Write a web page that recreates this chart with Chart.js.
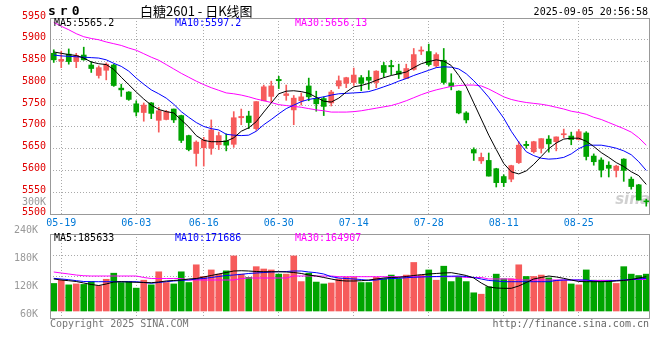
<!DOCTYPE html>
<html>
<head>
<meta charset="utf-8">
<script src="https://cdn.jsdelivr.net/npm/chart.js@4.4.1/dist/chart.umd.min.js"></script>
<style>
body { margin: 0; background: #fff; }
#wrap { position: relative; width: 660px; height: 360px; overflow: hidden; font-family: 'DejaVu Sans Mono', monospace; font-size: 10px; }
canvas { position: absolute; left: 0; top: 0; }
.t { position: absolute; white-space: pre; line-height: 12px; }
</style>
</head>
<body>
<div id="wrap">
  <canvas id="kline" width="660" height="360"></canvas>
  <canvas id="vol" width="660" height="360"></canvas>

  <div class="t" style="left:48px;top:4px;font-weight:bold;font-size:13px;line-height:14px;letter-spacing:4px;">sr0</div>
  <div class="t" style="left:140px;top:4px;font-size:13px;line-height:14px;font-family:'Noto Sans CJK SC',sans-serif;">白糖2601 - 日K线图</div>
  <div class="t" style="right:12px;top:6px;">2025-09-05 20:56:58</div>

  <div class="t" style="left:54px;top:17px;color:#000;">MA5:5565.2</div>
  <div class="t" style="left:175px;top:17px;color:#0000ff;">MA10:5597.2</div>
  <div class="t" style="left:295px;top:17px;color:#ff00ff;">MA30:5656.13</div>

  <div class="t" style="left:54px;top:232px;color:#000;">MA5:185633</div>
  <div class="t" style="left:175px;top:232px;color:#0000ff;">MA10:171686</div>
  <div class="t" style="left:295px;top:232px;color:#ff00ff;">MA30:164907</div>

  <div class="t" style="left:50px;top:318px;color:#777;">Copyright 2025 SINA.COM</div>
  <div class="t" style="right:11px;top:318px;color:#666;">http://finance.sina.com.cn</div>
</div>

<script>
// trading days shown on the chart
const dates = [
  '05-16','05-19','05-20','05-21','05-22','05-23','05-26','05-27','05-28','05-29',
  '05-30','06-03','06-04','06-05','06-06','06-09','06-10','06-11','06-12','06-13',
  '06-16','06-17','06-18','06-19','06-20','06-23','06-24','06-25','06-26','06-27',
  '06-30','07-01','07-02','07-03','07-04','07-07','07-08','07-09','07-10','07-11',
  '07-14','07-15','07-16','07-17','07-18','07-21','07-22','07-23','07-24','07-25',
  '07-28','07-29','07-30','07-31','08-01','08-04','08-05','08-06','08-07','08-08',
  '08-11','08-12','08-13','08-14','08-15','08-18','08-19','08-20','08-21','08-22',
  '08-25','08-26','08-27','08-28','08-29','09-01','09-02','09-03','09-04','09-05'
];
const tickDates = ['05-19','06-03','06-16','06-30','07-14','07-28','08-11','08-25'];

// daily candles
const opens = [
  5869,5851,5867,5850,5865,5842,5818,5830,5842,5789,
  5780,5753,5733,5755,5715,5717,5741,5726,5680,5639,
  5652,5651,5659,5668,5660,5721,5725,5696,5760,5770,
  5809,5772,5739,5760,5794,5765,5765,5755,5794,5800,
  5802,5813,5814,5802,5841,5841,5828,5811,5832,5874,
  5873,5840,5853,5801,5782,5732,5648,5622,5623,5604,
  5586,5580,5618,5660,5643,5651,5672,5666,5682,5679,
  5671,5686,5633,5624,5612,5600,5626,5580,5567,5530
];
const highs = [
  5877,5874,5879,5869,5883,5850,5840,5847,5844,5798,
  5781,5760,5755,5756,5745,5738,5741,5727,5681,5668,
  5676,5716,5688,5684,5735,5741,5736,5758,5796,5805,
  5816,5796,5772,5778,5812,5782,5769,5784,5817,5814,
  5835,5818,5829,5829,5848,5853,5844,5844,5880,5884,
  5890,5870,5880,5822,5783,5735,5652,5640,5640,5605,
  5590,5612,5666,5667,5667,5673,5680,5677,5695,5688,
  5694,5689,5638,5629,5620,5612,5627,5585,5568,5534
];
const lows = [
  5848,5836,5844,5836,5853,5825,5812,5808,5793,5770,
  5761,5725,5713,5719,5688,5716,5710,5664,5645,5610,
  5610,5637,5648,5645,5653,5705,5696,5692,5760,5758,
  5788,5761,5705,5750,5760,5736,5726,5748,5788,5790,
  5795,5783,5786,5790,5814,5820,5811,5811,5830,5866,
  5840,5837,5798,5785,5730,5709,5623,5616,5587,5562,
  5563,5574,5616,5651,5640,5640,5642,5645,5675,5659,
  5670,5624,5612,5585,5585,5585,5575,5557,5532,5518
];
const closes = [
  5854,5855,5850,5864,5854,5834,5836,5844,5795,5785,
  5763,5734,5750,5731,5737,5735,5716,5669,5648,5665,
  5670,5693,5680,5658,5721,5724,5710,5758,5792,5794,
  5806,5776,5766,5769,5769,5753,5747,5780,5806,5813,
  5819,5800,5807,5828,5825,5838,5821,5834,5866,5876,
  5843,5866,5802,5793,5732,5716,5640,5630,5587,5572,
  5572,5611,5658,5657,5666,5673,5661,5677,5684,5671,
  5689,5632,5620,5601,5605,5610,5600,5563,5532,5528
];

// price moving averages
const ma5 = [
  5872,5869,5866,5864,5858,5849,5845,5843,5832,5814,
  5797,5780,5764,5750,5740,5735,5732,5716,5700,5680,
  5669,5666,5666,5667,5675,5690,5698,5712,5734,5755,
  5776,5782,5783,5781,5777,5768,5759,5757,5766,5780,
  5792,5795,5800,5807,5813,5818,5822,5826,5836,5845,
  5850,5854,5851,5841,5818,5792,5755,5718,5681,5648,
  5616,5597,5592,5599,5614,5632,5650,5663,5672,5674,
  5674,5667,5655,5641,5630,5618,5609,5597,5588,5568
];
const ma10 = [
  5865,5863,5862,5861,5860,5859,5858,5854,5846,5839,
  5828,5812,5798,5785,5776,5766,5752,5735,5722,5710,
  5701,5696,5693,5683,5681,5680,5681,5690,5705,5717,
  5730,5742,5750,5758,5763,5766,5769,5773,5776,5777,
  5778,5779,5781,5786,5792,5798,5805,5811,5818,5824,
  5830,5836,5838,5837,5833,5822,5806,5788,5768,5744,
  5720,5690,5665,5643,5634,5628,5626,5627,5630,5638,
  5650,5658,5658,5658,5655,5651,5645,5636,5620,5600
];
const ma30 = [
  5940,5931,5923,5914,5907,5903,5900,5895,5891,5887,
  5881,5876,5868,5860,5853,5843,5833,5823,5814,5805,
  5797,5790,5784,5778,5776,5773,5769,5764,5760,5756,
  5751,5749,5747,5745,5742,5739,5737,5734,5734,5734,
  5735,5737,5740,5743,5746,5749,5754,5760,5767,5774,
  5780,5785,5789,5793,5795,5796,5796,5794,5787,5778,
  5769,5763,5759,5756,5754,5752,5749,5745,5741,5736,
  5733,5729,5722,5717,5710,5703,5696,5688,5675,5658
];

// volume in thousands
const volK = [
  134,141,131,133,132,138,129,143,156,136,
  138,124,141,131,159,136,133,159,136,174,
  149,163,154,161,193,154,147,170,165,163,
  154,154,193,138,156,137,133,135,144,147,
  147,136,136,147,144,152,144,152,179,152,
  163,141,171,138,149,138,114,111,127,154,
  144,144,174,149,149,152,146,141,141,133,
  131,163,141,141,141,134,170,154,151,154
];
const volMa5 = [
  143.6,141.4,139.9,138.2,135.0,131.8,129.6,132.9,137.1,137.8,
  137.1,136.5,136.1,135.6,137.1,139.3,140.4,141.4,143.6,144.6,
  147.9,151.1,154.3,157.5,160.7,161.3,160.7,159.6,159.2,159.2,
  159.2,158.6,157.5,155.4,152.1,150.0,146.8,143.6,140.4,139.3,
  139.3,139.9,141.4,143.6,145.7,146.8,147.2,148.9,151.1,152.8,
  154.3,155.4,156.4,157.1,154.3,151.1,145.7,135.0,126.4,124.3,
  123.6,123.6,128.6,136.1,143.6,146.8,150.0,147.9,145.0,141.4,
  138.2,137.8,137.8,137.8,138.2,139.3,140.4,142.5,145.7,148.5
];
const volMa10 = [
  145.0,143.6,142.1,140.0,138.2,137.8,137.8,137.8,137.8,137.8,
  137.8,137.8,136.1,134.4,136.1,137.8,139.3,140.4,141.4,143.6,
  144.6,146.8,148.9,151.1,152.1,153.6,155.4,156.4,157.5,158.6,
  159.2,159.6,160.7,160.7,158.6,157.1,154.3,148.5,145.7,144.6,
  143.6,142.5,140.4,141.4,143.6,144.6,145.0,146.4,147.2,147.9,
  148.5,148.9,149.4,149.6,150.0,148.9,146.8,143.6,140.4,139.3,
  137.8,137.8,137.8,137.8,137.8,137.8,137.8,140.4,141.4,141.4,
  141.4,141.4,139.3,138.2,139.3,140.4,141.4,142.5,143.6,145.0
];
const volMa30 = [
  158.6,156.4,154.3,152.1,150.6,150.0,150.0,150.0,150.0,150.0,
  150.0,150.0,146.8,144.6,144.6,144.6,144.6,144.6,141.4,141.4,
  141.4,141.4,141.4,141.4,141.4,144.6,145.7,145.7,145.7,145.7,
  145.7,145.7,150.0,150.0,150.0,150.0,150.0,150.0,148.5,148.5,
  148.5,148.5,148.5,148.5,148.5,148.5,148.5,148.5,148.5,148.5,
  148.5,148.5,148.5,148.5,148.5,146.8,146.8,146.8,143.6,143.6,
  143.6,143.6,141.4,141.4,141.4,141.4,141.4,141.4,141.4,141.4,
  141.4,140.4,140.4,140.4,140.4,140.4,140.4,142.5,142.5,142.5
];

// axis values
const priceMin = 5500, priceMax = 5950, priceStep = 50;
const volMin = 60, volMax = 240, volStep = 60;
const volExtraTick = 300;   // the stray label above the volume panel
const volFloor = 75;        // volume bars start here

const UP = '#f65b5b';
const DOWN = '#00a400';
const GRID = '#aaaaaa';
const candleColors = closes.map((c, i) => (c >= opens[i] ? UP : DOWN));

Chart.defaults.font.family = "'DejaVu Sans Mono', monospace";
Chart.defaults.font.size = 10;

const dateGrid = c => (tickDates.includes(dates[c.index]) ? GRID : 'rgba(0,0,0,0)');

// solid box round the plot area
const frame = {
    id: 'frame',
    afterDraw(chart) {
        const { ctx, chartArea: a } = chart;
        ctx.save();
        ctx.strokeStyle = '#999';
        ctx.lineWidth = 1;
        ctx.strokeRect(Math.round(a.left) + 0.5, Math.round(a.top) + 0.5,
            Math.round(a.right - a.left) - 1, Math.round(a.bottom - a.top));
        ctx.restore();
    }
};

const watermark = {
    id: 'watermark',
    beforeDatasetsDraw(chart) {
        const { ctx, chartArea: a } = chart;
        ctx.save();
        ctx.font = "italic bold 15px 'DejaVu Sans', sans-serif";
        ctx.fillStyle = 'rgba(150,150,150,0.45)';
        ctx.textAlign = 'right';
        ctx.fillText('sina', a.right, a.bottom - 10);
        ctx.restore();
    }
};

const extraVolLabel = {
    id: 'extraVolLabel',
    afterDraw(chart) {
        const { ctx } = chart;
        const y = chart.scales.y.getPixelForValue(volExtraTick);
        ctx.save();
        ctx.font = "10px 'DejaVu Sans Mono', monospace";
        ctx.fillStyle = '#999';
        ctx.textAlign = 'right';
        ctx.textBaseline = 'middle';
        ctx.fillText(volExtraTick + 'K', 46, y - 4);
        ctx.restore();
    }
};

const lineSet = (data, color) => ({
    type: 'line', data: data, borderColor: color, borderWidth: 1,
    pointRadius: 0, tension: 0, yAxisID: 'y'
});

// price panel
new Chart(document.getElementById('kline'), {
    type: 'bar',
    data: {
        labels: dates,
        datasets: [
            lineSet(ma5, '#000000'),
            lineSet(ma10, '#0000ff'),
            lineSet(ma30, '#ff00ff'),
            {
                data: opens.map((o, i) => [o, closes[i]]),
                backgroundColor: candleColors,
                barThickness: 5, minBarLength: 1, grouped: false, yAxisID: 'y'
            },
            {
                data: lows.map((l, i) => [l, highs[i]]),
                backgroundColor: candleColors,
                barThickness: 1, grouped: false, yAxisID: 'y'
            }
        ]
    },
    options: {
        responsive: false,
        animation: false,
        devicePixelRatio: 1,
        layout: { padding: { top: 18, right: 10, bottom: 132, left: 0 } },
        plugins: { legend: { display: false }, tooltip: { enabled: false } },
        scales: {
            x: {
                grid: { offset: false, drawTicks: false, color: dateGrid },
                border: { display: false, dash: [1, 2] },
                ticks: {
                    autoSkip: false, maxRotation: 0, minRotation: 0,
                    color: '#0078d7', padding: 3,
                    callback: (v, i) => (tickDates.includes(dates[i]) ? dates[i] : '')
                },
                afterFit: s => { s.height = 14; }
            },
            y: {
                min: priceMin, max: priceMax,
                ticks: {
                    stepSize: priceStep, color: '#e00000', padding: 4, labelOffset: -2,
                    callback: v => String(v)
                },
                grid: { drawTicks: false, color: GRID },
                border: { display: false, dash: [1, 2] },
                afterFit: s => { s.width = 50; }
            }
        }
    },
    plugins: [watermark, frame]
});

// volume panel
new Chart(document.getElementById('vol'), {
    type: 'bar',
    data: {
        labels: dates,
        datasets: [
            lineSet(volMa5, '#000000'),
            lineSet(volMa10, '#0000ff'),
            lineSet(volMa30, '#ff00ff'),
            {
                data: volK.map(v => [volFloor, v]),
                backgroundColor: candleColors,
                barThickness: 6, grouped: false, yAxisID: 'y'
            }
        ]
    },
    options: {
        responsive: false,
        animation: false,
        devicePixelRatio: 1,
        layout: { padding: { top: 234, right: 10, bottom: 42, left: 0 } },
        plugins: { legend: { display: false }, tooltip: { enabled: false } },
        scales: {
            x: {
                grid: { offset: false, drawTicks: false, color: dateGrid },
                border: { display: false, dash: [1, 2] },
                ticks: { display: false },
                afterFit: s => { s.height = 0; }
            },
            y: {
                min: volMin, max: volMax,
                ticks: { stepSize: volStep, color: '#999', padding: 4, labelOffset: -4, callback: v => v + 'K' },
                grid: { display: false },
                border: { display: false },
                afterFit: s => { s.width = 50; }
            },
            yg: {
                position: 'left', min: 0, max: 4,
                ticks: { display: false, stepSize: 1 },
                grid: { drawTicks: false, color: GRID },
                border: { display: false, dash: [1, 2] },
                afterFit: s => { s.width = 0; }
            }
        }
    },
    plugins: [frame, extraVolLabel]
});
</script>
</body>
</html>
